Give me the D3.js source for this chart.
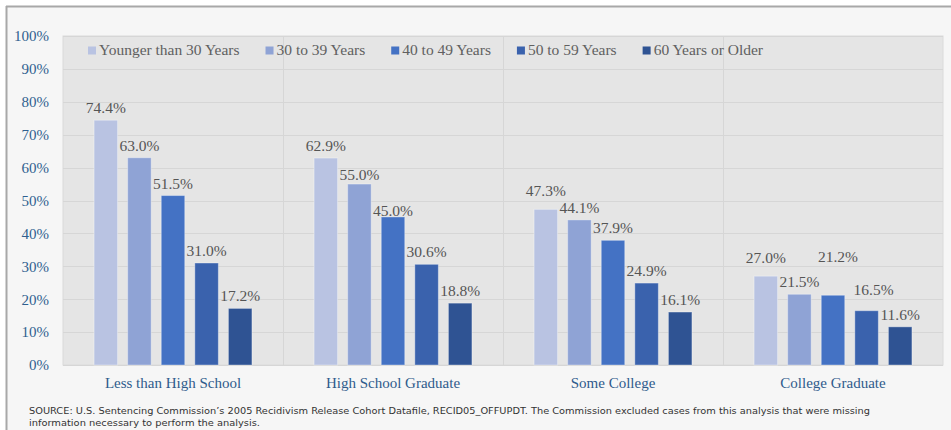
<!DOCTYPE html>
<html><head><meta charset="utf-8">
<script src="https://cdn.jsdelivr.net/npm/d3@7/dist/d3.min.js"></script>
<style>html,body{margin:0;padding:0;background:#fff;}svg{display:block;}</style>
</head><body>
<svg id="chart" width="951" height="430"></svg>
<script>
const categories = ["Less than High School", "High School Graduate", "Some College", "College Graduate"];
const seriesNames = ["Younger than 30 Years", "30 to 39 Years", "40 to 49 Years", "50 to 59 Years", "60 Years or Older"];
const under30 = [74.4, 62.9, 47.3, 27.0];
const age30to39 = [63.0, 55.0, 44.1, 21.5];
const age40to49 = [51.5, 45.0, 37.9, 21.2];
const age50to59 = [31.0, 30.6, 24.9, 16.5];
const age60plus = [17.2, 18.8, 16.1, 11.6];
const yTicks = [0, 10, 20, 30, 40, 50, 60, 70, 80, 90, 100];
const sourceLines = [
  "SOURCE: U.S. Sentencing Commission\u2019s 2005 Recidivism Release Cohort Datafile, RECID05_OFFUPDT. The Commission excluded cases from this analysis that were missing",
  "information necessary to perform the analysis."
];

const seriesValues = [under30, age30to39, age40to49, age50to59, age60plus];
const colors = ["#b9c3e2", "#8fa3d5", "#4472c4", "#3a62ad", "#2f5393"];
// manual label nudges (dx, dy) as in the original, keyed "group-series"
const labelNudge = {"1-1": [0, 3], "1-2": [0, 6], "2-0": [0, -6], "3-0": [0, -6], "3-2": [5, -26], "3-3": [7, -9]};

const svg = d3.select("#chart");
const serif = "'Liberation Serif', 'DejaVu Serif', serif";

// frame
svg.append("rect").attr("x", 7).attr("y", 7).attr("width", 951).attr("height", 430).attr("fill", "#f6f6f6");
svg.append("line").attr("x1", 6).attr("x2", 951).attr("y1", 6.5).attr("y2", 6.5).attr("stroke", "#a8a8a8").attr("stroke-width", 2);
svg.append("line").attr("x1", 6.5).attr("x2", 6.5).attr("y1", 6).attr("y2", 430).attr("stroke", "#a8a8a8").attr("stroke-width", 2);

const plot = {left: 63, right: 943, top: 36, bottom: 365};
const x0 = d3.scaleBand().domain(categories).range([plot.left, plot.right]);
const x1 = d3.scaleBand().domain(d3.range(seriesNames.length)).range([0, x0.bandwidth()]).paddingInner(0.3).paddingOuter(0.925);
const y = d3.scaleLinear().domain([0, 100]).range([plot.bottom, plot.top]);

// plot area
svg.append("rect").attr("x", plot.left).attr("y", plot.top).attr("width", plot.right - plot.left).attr("height", plot.bottom - plot.top)
  .attr("fill", "#e5e5e5").attr("stroke", "#dadada").attr("stroke-width", 1);
svg.append("g").selectAll("line").data(yTicks).join("line")
  .attr("x1", plot.left).attr("x2", plot.right)
  .attr("y1", d => Math.round(y(d)) + 0.5).attr("y2", d => Math.round(y(d)) + 0.5)
  .attr("stroke", "#d6d6d6").attr("stroke-width", 1);
svg.append("g").selectAll("line").data(categories.slice(1)).join("line")
  .attr("x1", d => Math.round(x0(d)) + 0.5).attr("x2", d => Math.round(x0(d)) + 0.5)
  .attr("y1", plot.top).attr("y2", plot.bottom)
  .attr("stroke", "#d6d6d6").attr("stroke-width", 1);

// y axis
const yAxis = d3.axisLeft(y).tickValues(yTicks).tickFormat(d => d + "%").tickSize(0).tickPadding(0);
const gy = svg.append("g").attr("transform", "translate(49,0)").call(yAxis);
gy.select(".domain").remove();
gy.selectAll("text").attr("font-family", serif).attr("font-size", 15).attr("fill", "#2f5f8f").attr("dy", "0.32em");

// x axis labels
const xAxis = d3.axisBottom(x0).tickSize(0).tickPadding(0);
const gx = svg.append("g").attr("transform", `translate(0,${plot.bottom})`).call(xAxis);
gx.select(".domain").remove();
gx.selectAll("text").attr("font-family", serif).attr("font-size", 15).attr("fill", "#2f5b8c").attr("dy", null).attr("y", 23);

// bars
const groups = svg.append("g").selectAll("g").data(categories).join("g")
  .attr("transform", d => `translate(${x0(d)},0)`);
groups.each(function(cat, gi) {
  const g = d3.select(this);
  const vals = seriesValues.map((s, si) => ({si, v: s[gi]}));
  g.selectAll("rect").data(vals).join("rect")
    .attr("x", d => x1(d.si)).attr("width", x1.bandwidth())
    .attr("y", d => y(d.v)).attr("height", d => y(0) - y(d.v))
    .attr("fill", d => colors[d.si])
    .attr("stroke", "rgba(255,255,255,0.35)").attr("stroke-width", 1);
  g.selectAll("text").data(vals).join("text")
    .attr("x", d => x1(d.si) + x1.bandwidth() / 2 + ((labelNudge[gi + "-" + d.si] || [0, 0])[0]))
    .attr("y", d => y(d.v) - 7 + ((labelNudge[gi + "-" + d.si] || [0, 0])[1]))
    .attr("text-anchor", "middle")
    .attr("font-family", serif).attr("font-size", 15.5).attr("fill", "#555555")
    .text(d => d.v.toFixed(1) + "%");
});

// legend
const legend = svg.append("g");
let lx = 88;
seriesNames.forEach((name, i) => {
  legend.append("rect").attr("x", lx).attr("y", 46.5).attr("width", 8).attr("height", 8).attr("fill", colors[i]);
  const t = legend.append("text").attr("x", lx + 11).attr("y", 55)
    .attr("font-family", serif).attr("font-size", 15.5).attr("fill", "#606060").text(name);
  lx += 11 + t.node().getComputedTextLength() + 26;
});

// source note
svg.append("g").selectAll("text").data(sourceLines).join("text")
  .attr("x", 29).attr("y", (d, i) => 414 + i * 12)
  .attr("font-family", "'DejaVu Sans', sans-serif").attr("font-size", 9.5).attr("fill", "#333333")
  .attr("textLength", (d, i) => i === 0 ? 841 : 231).attr("lengthAdjust", "spacingAndGlyphs")
  .text(d => d);
</script>
</body></html>
